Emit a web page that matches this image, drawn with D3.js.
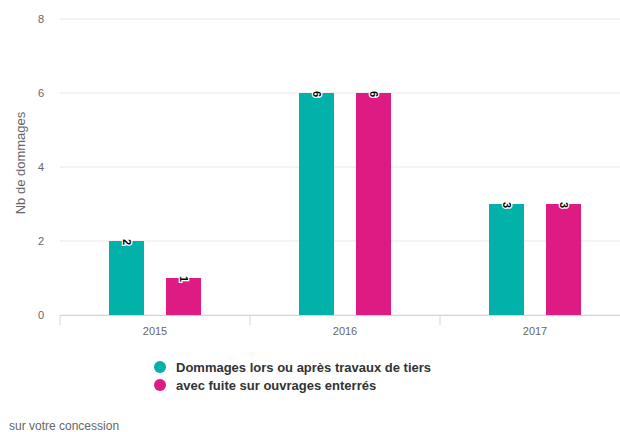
<!DOCTYPE html>
<html>
<head>
<meta charset="utf-8">
<script src="https://cdn.jsdelivr.net/npm/d3@7"></script>
<style>
  body { margin: 0; background: #fff; font-family: "Liberation Sans", Arial, sans-serif; }
</style>
</head>
<body>
<svg width="620" height="432"></svg>
<script>
// chart data
let years = ["2015", "2016", "2017"]
let seriesNames = ["Dommages lors ou après travaux de tiers", "avec fuite sur ouvrages enterrés"]
let seriesColors = ["#02b1aa", "#dd1b83"]
let travaux = [2, 6, 3]
let fuite = [1, 6, 3]
let yTicks = [0, 2, 4, 6, 8]

let svg = d3.select("svg")

let x = d3.scaleBand().domain(years).range([60, 630])
let y = d3.scaleLinear().domain([0, 8]).range([315, 19])

// grid lines
svg.append("g")
    .selectAll("line")
    .data(yTicks)
    .enter().append("line")
    .attr("x1", 60).attr("x2", 630)
    .attr("y1", d => y(d)).attr("y2", d => y(d))
    .attr("stroke", "#e6e6e6")

// y labels
svg.append("g")
    .selectAll("text")
    .data(yTicks)
    .enter().append("text")
    .attr("x", 44).attr("y", d => y(d) + 4)
    .attr("text-anchor", "end")
    .attr("font-size", 11).attr("fill", "#666")
    .text(d => d)

svg.append("text")
    .attr("transform", "translate(25,163) rotate(-90)")
    .attr("text-anchor", "middle")
    .attr("font-size", 13).attr("fill", "#666")
    .text("Nb de dommages")

// x axis
let xAxis = d3.axisBottom(x).tickSize(10).tickSizeOuter(0)
let gx = svg.append("g").attr("transform", "translate(0,315)").call(xAxis)
gx.select(".domain").attr("stroke", "#ccd6eb")
gx.selectAll(".tick line").attr("stroke", "#ccd6eb")
    .attr("transform", "translate(" + (-x.bandwidth() / 2) + ",0)")
gx.selectAll(".tick text").attr("font-size", 11).attr("fill", "#666")
    .attr("font-family", "Liberation Sans, Arial, sans-serif").attr("dy", "0.35em").attr("y", 16)
// last tick at right edge
gx.append("line").attr("x1", 630).attr("x2", 630).attr("y1", 0).attr("y2", 10).attr("stroke", "#ccd6eb")

let inner = d3.scaleBand().domain([0, 1]).range([0, x.bandwidth()]).paddingInner(0.386).paddingOuter(0.86)

let series = [travaux, fuite]
series.forEach((vals, i) => {
    let g = svg.append("g")
    g.selectAll("rect")
        .data(vals)
        .enter().append("rect")
        .attr("x", (d, j) => x(years[j]) + inner(i))
        .attr("width", inner.bandwidth())
        .attr("y", d => y(d))
        .attr("height", d => y(0) - y(d))
        .attr("fill", seriesColors[i])
    g.selectAll("text")
        .data(vals)
        .enter().append("text")
        .attr("transform", (d, j) => "translate(" + (x(years[j]) + inner(i) + inner.bandwidth() / 2) + "," + (y(d) + 1) + ") rotate(90)")
        .attr("dy", "0.35em")
        .attr("text-anchor", "middle")
        .attr("font-size", 11).attr("font-weight", "bold")
        .attr("fill", "#000")
        .attr("stroke", "#fff").attr("stroke-width", 2.5).attr("paint-order", "stroke")
        .text(d => d)
})

// legend
let legend = svg.append("g")
seriesNames.forEach((name, i) => {
    legend.append("circle")
        .attr("cx", 160).attr("cy", 367 + i * 18).attr("r", 6)
        .attr("fill", seriesColors[i])
    legend.append("text")
        .attr("x", 176).attr("y", 372 + i * 18)
        .attr("font-size", 13).attr("font-weight", "bold").attr("fill", "#333")
        .text(name)
})

svg.append("text")
    .attr("x", 9).attr("y", 430)
    .attr("font-size", 12).attr("fill", "#666")
    .text("sur votre concession")
</script>
</body>
</html>
